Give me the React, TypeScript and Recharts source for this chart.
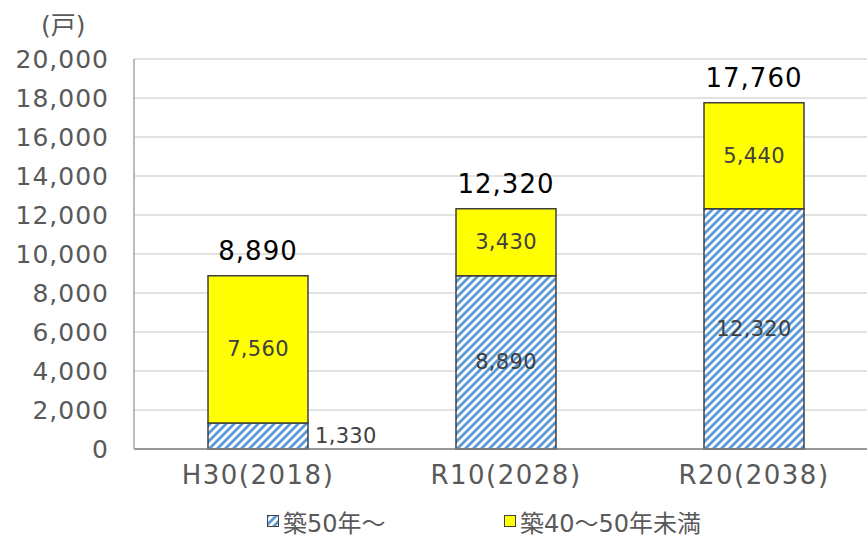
import React from 'react';
import { BarChart, Bar, XAxis, YAxis, CartesianGrid, LabelList } from 'recharts';

const categories = ['H30(2018)', 'R10(2028)', 'R20(2038)'];
const over50 = [1330, 8890, 12320];
const from40to50 = [7560, 3430, 5440];
const totals = [8890, 12320, 17760];
const yTicks = [0, 2000, 4000, 6000, 8000, 10000, 12000, 14000, 16000, 18000, 20000];
const seriesNames = ['築50年～', '築40～50年未満'];
const unitLabel = '(戸)';

const data = categories.map((c, i) => ({ name: c, a: over50[i], b: from40to50[i], total: totals[i] }));

const FONT = '"DejaVu Sans", "Noto Sans CJK JP", sans-serif';
const fmt = (v: number) => v.toLocaleString('en-US');

const innerStyle = { fill: '#404040', fontSize: 21, fontFamily: FONT, letterSpacing: 0.3 } as const;

const BottomLabel = (props: any) => {
  const { x, y, width, height, value } = props;
  if (height < 40) {
    return (
      <text x={x + width + 7} y={y + height / 2} dominantBaseline="central" {...innerStyle}>
        {fmt(value)}
      </text>
    );
  }
  return (
    <text x={x + width / 2} y={y + height / 2} textAnchor="middle" dominantBaseline="central" {...innerStyle}>
      {fmt(value)}
    </text>
  );
};

const TopLabel = (props: any) => {
  const { x, y, width, height, value } = props;
  return (
    <text x={x + width / 2} y={y + height / 2} textAnchor="middle" dominantBaseline="central" {...innerStyle}>
      {fmt(value)}
    </text>
  );
};

const TotalLabel = (props: any) => {
  const { x, y, width, index } = props;
  return (
    <text x={x + width / 2} y={y - 25} textAnchor="middle" dominantBaseline="central" fill="#000" fontSize={26} fontFamily={FONT} letterSpacing={1}>
      {fmt(totals[index])}
    </text>
  );
};

const HatchPattern = ({ id }: { id: string }) => (
  <pattern id={id} width="8" height="8" patternUnits="userSpaceOnUse">
    <rect width="8" height="8" fill="#fff" />
    <polygon points="0,0 4,0 0,4" fill="#5b9bd5" />
    <polygon points="8,0 8,4 4,8 0,8" fill="#5b9bd5" />
  </pattern>
);

const PatternIcon = () => (
  <svg width={12} height={12} style={{ display: 'block' }}>
    <defs>
      <HatchPattern id="hatchIcon" />
    </defs>
    <rect x={0.5} y={0.5} width={11} height={11} fill="url(#hatchIcon)" stroke="#404040" strokeWidth={1} />
  </svg>
);

const YellowIcon = () => (
  <svg width={12} height={12} style={{ display: 'block' }}>
    <rect x={0.5} y={0.5} width={11} height={11} fill="#ffff00" stroke="#404040" strokeWidth={1} />
  </svg>
);

const LegendBlock = () => (
  <div style={{ position: 'absolute', left: 0, top: 505, width: 867, height: 32, fontFamily: FONT, fontSize: 24, color: '#595959' }}>
    <div style={{ position: 'absolute', left: 267, top: 0, display: 'flex', alignItems: 'center', gap: 4, height: 32 }}>
      <PatternIcon />
      <span>{seriesNames[0]}</span>
    </div>
    <div style={{ position: 'absolute', left: 504, top: 0, display: 'flex', alignItems: 'center', gap: 4, height: 32 }}>
      <YellowIcon />
      <span>{seriesNames[1]}</span>
    </div>
  </div>
);

export default function App() {
  return (
    <div style={{ position: 'absolute', left: 0, top: 0, width: 867, height: 537, overflow: 'hidden', background: '#fff' }}>
      <BarChart width={878} height={537} data={data} margin={{ top: 59, right: 0, bottom: 58, left: 0 }} barSize={100}>
        <defs>
          <HatchPattern id="hatch" />
        </defs>
        <CartesianGrid vertical={false} stroke="#d9d9d9" strokeWidth={1.5} />
        <XAxis
          dataKey="name"
          height={30}
          axisLine={{ stroke: '#7f7f7f', strokeWidth: 1.5 }}
          tickLine={false}
          tickSize={0}
          tickMargin={14}
          tick={{ fill: '#595959', fontSize: 26, fontFamily: FONT, dy: 3, letterSpacing: 1.5 }}
          interval={0}
        />
        <YAxis
          domain={[0, 20000]}
          ticks={yTicks}
          width={134}
          tickFormatter={fmt}
          axisLine={{ stroke: '#a6a6a6', strokeWidth: 1.5 }}
          tickLine={false}
          tickSize={0}
          tickMargin={25}
          tick={{ fill: '#595959', fontSize: 25, fontFamily: FONT, letterSpacing: 1 }}
          interval={0}
        />
        <Bar dataKey="a" name={seriesNames[0]} stackId="s" fill="url(#hatch)" stroke="#404040" strokeWidth={1.5} isAnimationActive={false}>
          <LabelList dataKey="a" content={<BottomLabel />} />
        </Bar>
        <Bar dataKey="b" name={seriesNames[1]} stackId="s" fill="#ffff00" stroke="#404040" strokeWidth={1.5} isAnimationActive={false}>
          <LabelList dataKey="b" content={<TopLabel />} />
          <LabelList dataKey="total" content={<TotalLabel />} />
        </Bar>
      </BarChart>
      <div style={{ position: 'absolute', left: 41, top: 5, fontFamily: FONT, fontSize: 25, color: '#595959' }}>{unitLabel}</div>
      <LegendBlock />
    </div>
  );
}
